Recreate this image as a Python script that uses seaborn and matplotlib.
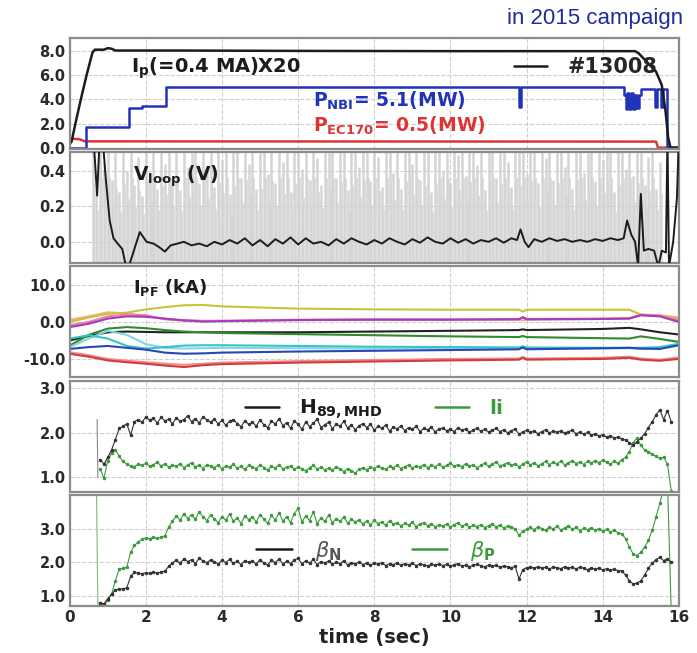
import numpy as np
import pandas as pd
import matplotlib
matplotlib.use("Agg")
import matplotlib.pyplot as plt
import seaborn as sns
from matplotlib.lines import Line2D

# ---------------- panel 1: Ip, P_NBI, P_EC ----------------
ip_t = [0.0, 0.05, 0.15, 0.3, 0.45, 0.6, 0.66, 0.9, 1.0, 1.1, 1.2, 1.6, 3.0, 6.0, 10.0, 14.0, 14.85,
        14.95, 15.1, 15.25, 15.4, 15.55, 15.65, 15.72, 15.78, 16.0]
ip_v = [0.3, 0.5, 2.0, 4.1, 6.1, 7.9, 8.12, 8.12, 8.25, 8.2, 8.05, 8.05, 8.05, 8.02, 8.0, 8.0, 8.0,
        7.8, 7.3, 6.8, 6.3, 5.2, 3.0, 0.8, 0.0, 0.0]

nbi_t = [0.0, 0.42, 1.55, 1.9, 2.54, 11.8, 11.86, 14.55, 14.6, 14.65, 14.7, 14.75, 14.8, 14.85, 14.9, 14.95,
         15.0, 15.38, 15.42, 15.54, 15.58, 15.68, 16.0]
nbi_v = [0.0, 1.7, 3.3, 3.45, 5.05, 3.4, 5.05, 4.4, 3.2, 4.5, 3.2, 4.5, 3.2, 4.4, 3.3, 4.4, 4.9, 3.4, 4.9,
         3.4, 4.9, 0.0, 0.0]

ec_t = [0.0, 0.25, 0.4, 15.4, 15.45, 16.0]
ec_v = [0.75, 0.7, 0.52, 0.5, 0.0, 0.0]

# ---------------- panel 2: Vloop (time, value) ----------------
vloop_pts = [(0.0, 0.7), (0.5, 0.7), (0.62, 0.6), (0.68, 0.40), (0.72, 0.26), (0.76, 0.45), (0.80, 0.65),
             (0.86, 0.6), (0.95, 0.35), (1.05, 0.12), (1.15, 0.02), (1.26, -0.01), (1.38, -0.04),
             (1.48, -0.14), (1.55, -0.14), (1.67, -0.06), (1.84, 0.055), (2.02, 0.0), (2.2, -0.01),
             (2.35, -0.03), (2.5, -0.055), (2.65, -0.02), (2.83, -0.01), (3.0, 0.0), (3.2, -0.02),
             (3.4, -0.01), (3.6, -0.025), (3.8, 0.0), (4.0, -0.015), (4.2, 0.01), (4.4, -0.01), (4.6, 0.02),
             (4.8, -0.02), (5.0, 0.01), (5.2, -0.025), (5.4, 0.015), (5.6, -0.01), (5.8, 0.025),
             (6.0, -0.015), (6.2, 0.02), (6.4, -0.01), (6.6, 0.0), (6.8, -0.02), (7.0, 0.015), (7.2, -0.01),
             (7.4, 0.02), (7.6, 0.0), (7.8, -0.015), (8.0, 0.01), (8.2, -0.01), (8.4, 0.02), (8.6, 0.0),
             (8.8, -0.015), (9.0, 0.015), (9.2, -0.005), (9.4, 0.025), (9.6, 0.0), (9.8, -0.01),
             (10.0, 0.02), (10.2, -0.005), (10.4, 0.015), (10.6, -0.01), (10.8, 0.01), (11.0, 0.0),
             (11.2, 0.02), (11.4, -0.005), (11.6, 0.02), (11.75, 0.01), (11.84, 0.07), (11.95, 0.0),
             (12.05, -0.03), (12.2, 0.015), (12.4, 0.0), (12.6, 0.02), (12.8, 0.005), (13.0, 0.015),
             (13.2, 0.0), (13.4, 0.01), (13.6, 0.0), (13.8, 0.015), (14.0, 0.005), (14.2, 0.02),
             (14.4, 0.01), (14.55, 0.02), (14.64, 0.12), (14.75, 0.04), (14.85, 0.0), (14.93, -0.14),
             (15.0, 0.27), (15.08, -0.05), (15.2, -0.04), (15.35, -0.05), (15.46, -0.14), (15.55, -0.05),
             (15.66, -0.06), (15.7, 0.6), (15.74, -0.14), (15.85, 0.0), (15.95, 0.25), (16.0, 0.6)]
vl_t = [p[0] for p in vloop_pts]
vl_v = [p[1] for p in vloop_pts]

vraw_start = 0.6
vraw_hi = [0.55, 0.30, 0.60, 0.45, 0.60, 0.35, 0.50, 0.28, 0.55, 0.40,
           0.60, 0.32, 0.48, 0.26, 0.58, 0.38, 0.60, 0.30, 0.52, 0.44,
           0.60, 0.34, 0.56, 0.29, 0.60, 0.42, 0.50, 0.60, 0.33, 0.58,
           0.40, 0.60, 0.31, 0.55, 0.46, 0.60, 0.27, 0.52, 0.60, 0.36,
           0.58, 0.44, 0.60, 0.30, 0.50, 0.60, 0.38, 0.57, 0.33, 0.60,
           0.45, 0.60, 0.28, 0.54, 0.60, 0.41, 0.59, 0.35, 0.60, 0.47,
           0.32, 0.60, 0.50, 0.60, 0.36, 0.56, 0.60, 0.29, 0.53, 0.60,
           0.42, 0.58, 0.60, 0.34, 0.60, 0.48, 0.31, 0.60, 0.55, 0.39,
           0.60, 0.30, 0.57, 0.60, 0.44, 0.60, 0.35, 0.52, 0.60, 0.28,
           0.55, 0.60, 0.40, 0.59, 0.33, 0.60, 0.49, 0.60, 0.37, 0.56,
           0.60, 0.43, 0.60, 0.29, 0.58, 0.60, 0.36, 0.54, 0.60, 0.45,
           0.31, 0.60, 0.52, 0.60, 0.38, 0.57, 0.60, 0.33, 0.60, 0.47,
           0.60, 0.35, 0.55, 0.60, 0.42, 0.60, 0.30, 0.58, 0.60, 0.39,
           0.50, 0.60, 0.34, 0.60, 0.46, 0.56, 0.60, 0.28, 0.53, 0.60,
           0.41, 0.60, 0.37, 0.55, 0.60, 0.32, 0.48, 0.60, 0.30, 0.45]

# ---------------- panel 3: PF coil currents ----------------
pf_t = [0.0, 0.5, 1.0, 1.5, 2.0, 2.5, 3.0, 3.5, 4.0, 6.0, 8.0, 10.0, 11.8, 11.9, 12.0, 14.0, 14.7, 15.0, 15.5, 16.0]
pf_yellow = [0.0, 1.2, 2.2, 2.5, 3.4, 4.0, 4.5, 4.6, 4.2, 3.6, 3.4, 3.3, 3.3, 2.8, 3.3, 3.3, 3.3, 2.0, 1.6, 0.9]
pf_orange = [0.6, 1.5, 2.6, 2.3, 1.6, 0.8, 0.3, 0.2, 0.3, 0.5, 0.6, 0.6, 0.6, 0.4, 0.6, 0.8, 1.0, 2.0, 1.8, 1.2]
pf_pink = [-0.9, 0.0, 1.5, 2.0, 1.8, 0.7, 0.5, 0.3, 0.3, 0.6, 0.7, 0.7, 0.8, 1.2, 0.8, 0.9, 1.0, 1.9, 1.7, 0.4]
pf_purple = [-1.4, -0.5, 0.9, 1.5, 1.4, 0.9, 0.4, 0.1, 0.2, 0.5, 0.6, 0.6, 0.7, 1.3, 0.7, 0.8, 0.9, 1.8, 1.5, 0.0]
pf_black = [-5.0, -3.8, -2.8, -2.6, -2.7, -2.8, -2.8, -2.8, -2.8, -2.8, -2.6, -2.4, -2.2, -2.0, -2.2, -1.9, -1.6, -2.0, -2.8, -3.4]
pf_green = [-6.4, -3.5, -1.8, -1.4, -1.7, -2.2, -2.6, -2.8, -3.0, -3.3, -3.6, -3.9, -4.1, -3.8, -4.1, -4.4, -4.5, -3.9, -4.6, -5.4]
pf_cyan = [-4.5, -3.6, -4.5, -6.5, -7.2, -6.8, -6.4, -6.3, -6.3, -6.5, -6.7, -6.8, -6.9, -6.6, -6.9, -7.0, -7.0, -7.0, -6.8, -5.9]
pf_teal = [-6.8, -4.5, -2.4, -3.5, -6.0, -7.0, -7.2, -7.1, -7.0, -7.1, -7.2, -7.2, -7.2, -6.9, -7.2, -7.2, -7.1, -7.3, -7.0, -6.2]
pf_blue = [-7.3, -6.8, -6.5, -7.0, -7.5, -8.3, -8.6, -8.5, -8.3, -8.0, -7.8, -7.6, -7.4, -6.9, -7.4, -7.1, -7.0, -7.2, -7.3, -6.3]
pf_salmon = [-8.2, -9.0, -10.0, -10.5, -10.9, -11.3, -11.6, -11.3, -11.0, -10.6, -10.3, -10.0, -9.9, -9.5, -9.9, -9.7, -9.4, -9.9, -10.2, -9.6]
pf_red = [-8.6, -9.4, -10.4, -10.9, -11.3, -11.8, -12.2, -11.7, -11.4, -11.0, -10.7, -10.4, -10.2, -9.7, -10.2, -10.0, -9.7, -10.2, -10.5, -10.0]

# ---------------- panels 4/5: 0.1 s samples from 0.8 s to 15.8 s ----------------
prof_start = 0.8
h89 = [1.40, 1.30, 1.45, 1.62, 1.85, 2.10, 2.15, 2.20, 1.95, 2.25,
       2.30, 2.24, 2.36, 2.28, 2.33, 2.22, 2.35, 2.27, 2.31, 2.20,
       2.34, 2.26, 2.30, 2.38, 2.25, 2.32, 2.22, 2.36, 2.29, 2.24,
       2.31, 2.20, 2.28, 2.17, 2.26, 2.30, 2.21, 2.14, 2.27, 2.19,
       2.24, 2.15, 2.29, 2.18, 2.12, 2.26, 2.20, 2.32, 2.16, 2.23,
       2.10, 2.27, 2.19, 2.08, 2.25, 2.14, 2.22, 2.31, 2.12, 2.18,
       2.24, 2.09, 2.20, 2.15, 2.26, 2.11, 2.18, 2.07, 2.16, 2.21,
       2.12, 2.19, 2.06, 2.15, 2.10, 2.18, 2.04, 2.13, 2.09, 2.16,
       2.05, 2.12, 2.08, 2.15, 2.03, 2.10, 2.07, 2.13, 2.02, 2.09,
       2.11, 2.05, 2.08, 2.03, 2.12, 2.06, 2.09, 2.01, 2.07, 2.10,
       2.04, 2.08, 2.02, 2.06, 2.10, 2.03, 2.07, 2.00, 2.05, 2.09,
       1.97, 2.02, 2.06, 2.01, 2.04, 1.98, 2.03, 2.07, 2.00, 2.04,
       2.01, 2.05, 1.99, 2.03, 2.06, 1.98, 2.02, 1.97, 2.01, 1.95,
       1.98, 1.93, 1.96, 1.90, 1.94, 1.88, 1.91, 1.86, 1.84, 1.78,
       1.72, 1.80, 1.88, 1.98, 2.12, 2.25, 2.40, 2.52, 2.30, 2.50,
       2.25]
li = [1.20, 0.98, 1.38, 1.55, 1.62, 1.48, 1.36, 1.30, 1.26, 1.24,
      1.30, 1.27, 1.32, 1.25, 1.29, 1.34, 1.26, 1.31, 1.23, 1.28,
      1.25, 1.31, 1.22, 1.28, 1.33, 1.24, 1.27, 1.20, 1.29, 1.25,
      1.22, 1.28, 1.19, 1.26, 1.23, 1.30, 1.21, 1.25, 1.18, 1.27,
      1.24, 1.20, 1.28, 1.22, 1.17, 1.25, 1.21, 1.29, 1.19, 1.23,
      1.26, 1.18, 1.24, 1.20, 1.15, 1.22, 1.27, 1.19, 1.23, 1.17,
      1.21, 1.16, 1.24, 1.19, 1.13, 1.20, 1.15, 1.10, 1.18, 1.22,
      1.17, 1.23, 1.20, 1.26, 1.21, 1.18, 1.25, 1.22, 1.27, 1.20,
      1.24, 1.28, 1.21, 1.26, 1.23, 1.29, 1.22, 1.27, 1.24, 1.30,
      1.23, 1.27, 1.32, 1.25, 1.29, 1.24, 1.31, 1.26, 1.28, 1.22,
      1.27, 1.32, 1.25, 1.30, 1.35, 1.26, 1.29, 1.33, 1.27, 1.31,
      1.24, 1.30, 1.35, 1.28, 1.33, 1.26, 1.31, 1.36, 1.29, 1.34,
      1.30, 1.37, 1.28, 1.33, 1.38, 1.31, 1.35, 1.29, 1.36, 1.32,
      1.38, 1.33, 1.39, 1.34, 1.30, 1.36, 1.32, 1.40, 1.45, 1.58,
      1.78, 1.88, 1.72, 1.62, 1.58, 1.52, 1.47, 1.43, 1.45, 1.30,
      0.70]
beta_p = [0.78, 0.72, 0.88, 1.05, 1.45, 1.80, 1.82, 1.85, 2.30, 2.50,
          2.60, 2.68, 2.72, 2.70, 2.74, 2.71, 2.75, 2.78, 3.05, 3.22,
          3.38, 3.25, 3.45, 3.30, 3.42, 3.28, 3.50, 3.35, 3.24, 3.40,
          3.30, 3.18, 3.36, 3.25, 3.44, 3.22, 3.32, 3.15, 3.38, 3.27,
          3.35, 3.20, 3.42, 3.28, 3.16, 3.40, 3.25, 3.48, 3.22, 3.36,
          3.18, 3.45, 3.60, 3.20, 3.38, 3.24, 3.50, 3.15, 3.32, 3.22,
          3.40, 3.18, 3.30, 3.22, 3.35, 3.16, 3.28, 3.20, 3.26, 3.14,
          3.22, 3.12, 3.25, 3.15, 3.20, 3.10, 3.24, 3.14, 3.18, 3.08,
          3.16, 3.10, 3.20, 3.06, 3.14, 3.18, 3.08, 3.15, 3.05, 3.12,
          3.08, 3.14, 3.05, 3.12, 3.18, 3.07, 3.13, 3.04, 3.10, 3.06,
          3.12, 3.03, 3.09, 3.14, 3.05, 3.11, 3.02, 3.08, 3.04, 3.00,
          2.80, 2.92, 2.98, 3.04, 2.97, 3.06, 3.00, 2.95, 3.05, 2.99,
          3.07, 2.96, 3.02, 3.08, 2.98, 3.04, 2.94, 3.01, 2.97, 3.03,
          2.95, 3.00, 2.92, 2.98, 2.90, 2.96, 2.88, 2.85, 2.70, 2.45,
          2.25, 2.20, 2.30, 2.45, 2.65, 2.95, 3.35, 3.75, 4.20, 4.40,
          0.50]
beta_n = [0.80, 0.76, 0.92, 1.05, 1.18, 1.20, 1.21, 1.24, 1.58, 1.70,
          1.68, 1.66, 1.69, 1.67, 1.70, 1.68, 1.71, 1.74, 1.88, 1.98,
          2.06, 1.98, 2.10, 2.02, 2.08, 1.96, 2.12, 2.04, 1.99, 2.07,
          2.02, 1.95, 2.06, 1.99, 2.09, 1.97, 2.03, 1.93, 2.05, 2.00,
          2.04, 1.94, 2.08, 1.98, 1.92, 2.06, 1.99, 2.10, 1.95, 2.03,
          1.96, 2.07, 2.12, 1.95, 2.05, 1.97, 2.09, 1.93, 2.02, 1.98,
          2.04, 1.94, 2.00, 1.96, 2.05, 1.92, 1.99, 1.95, 2.01, 1.93,
          1.98, 1.92, 1.97, 1.94, 1.99, 1.90, 1.96, 1.93, 1.98, 1.91,
          1.96, 1.92, 1.97, 1.90, 1.95, 1.93, 1.89, 1.94, 1.91, 1.95,
          1.90, 1.94, 1.88, 1.93, 1.96, 1.89, 1.92, 1.87, 1.91, 1.94,
          1.90, 1.86, 1.92, 1.88, 1.91, 1.85, 1.89, 1.87, 1.84, 1.88,
          1.50, 1.78, 1.84, 1.86, 1.82, 1.87, 1.83, 1.85, 1.80, 1.86,
          1.84, 1.81, 1.87, 1.83, 1.85, 1.80, 1.86, 1.82, 1.78, 1.84,
          1.79, 1.83, 1.77, 1.81, 1.76, 1.80, 1.75, 1.74, 1.62, 1.45,
          1.35, 1.38, 1.45, 1.62, 1.82, 1.98, 2.08, 2.15, 2.05, 2.10,
          2.00]
# start-up transients before the profile samples
h89_pre_t, h89_pre_v = [0.72, 0.74], [2.3, 1.0]
bp_pre_t, bp_pre_v = [0.70, 0.74], [4.5, 0.70]

x_ticks = [0, 2, 4, 6, 8, 10, 12, 14, 16]

# ---------------- style ----------------
sns.set_theme(style="white")
plt.rcParams["font.family"] = ["DejaVu Sans"]
plt.rcParams["mathtext.fontset"] = "dejavusans"

BLACK = "#1c1c1c"
BLUE = "#2233bb"
RED = "#dd3535"
GREEN = "#3c9a3c"
FRAME = "#8c8c8c"

fig, axes = plt.subplots(5, 1, figsize=(6.97, 6.53), dpi=100, sharex=True)
fig.subplots_adjust(left=0.1, right=0.974, top=0.942, bottom=0.072, hspace=0.03)


def line(ax, x, y, **kw):
    sns.lineplot(x=np.asarray(x, float), y=np.asarray(y, float), ax=ax, estimator=None,
                 sort=False, errorbar=None, legend=False, **kw)


# Panel 1
ax = axes[0]
line(ax, ec_t, ec_v, color=RED, lw=1.8)
line(ax, nbi_t, nbi_v, color=BLUE, lw=1.8, drawstyle="steps-post")
line(ax, ip_t, ip_v, color=BLACK, lw=1.8)
ax.set_ylim(-0.1, 9.1)
ax.set_yticks([0, 2, 4, 6, 8])
ax.set_yticklabels(["0.0", "2.0", "4.0", "6.0", "8.0"])
ax.text(1.6, 6.6, r"I$_\mathbf{p}$(=0.4 MA)X20", fontsize=14, fontweight="bold", color=BLACK, va="center")
ax.text(6.4, 3.85, r"P$_\mathbf{NBI}$= 5.1(MW)", fontsize=13.5, fontweight="bold", color=BLUE, va="center")
ax.text(6.4, 1.8, r"P$_\mathbf{EC170}$= 0.5(MW)", fontsize=13.5, fontweight="bold", color=RED, va="center")
ax.legend(handles=[Line2D([], [], color=BLACK, lw=1.8)], labels=["#13008"], loc="center",
          bbox_to_anchor=(0.847, 0.735), frameon=False, handlelength=1.6, handletextpad=1.0,
          prop={"size": 15, "weight": "bold"})

# Panel 2
ax = axes[1]
vt = vraw_start + 0.1 * np.arange(len(vraw_hi))
ax.vlines(vt, -0.12, vraw_hi, color="#cdcdcd", lw=1.8, alpha=0.85, zorder=1)
ax.vlines(vt + 0.05, -0.12, np.asarray(vraw_hi) * 0.6, color="#d6d6d6", lw=1.4, alpha=0.85, zorder=1)
line(ax, vl_t, vl_v, color=BLACK, lw=1.4, zorder=3)
ax.set_ylim(-0.12, 0.505)
ax.set_yticks([0.0, 0.2, 0.4])
ax.set_yticklabels(["0.0", "0.2", "0.4"])
ax.text(1.65, 0.37, r"V$_\mathbf{loop}$ (V)", fontsize=13.5, fontweight="bold", color=BLACK, va="center")

# Panel 3
ax = axes[2]
pf_series = [(pf_orange, "#f3b27a"), (pf_yellow, "#c8c23a"), (pf_pink, "#ef7ab0"), (pf_purple, "#a53cb8"),
             (pf_black, "#222222"), (pf_green, "#2e8b2e"), (pf_teal, "#86d4e6"), (pf_cyan, "#38c4c4"),
             (pf_blue, "#2846b8"), (pf_salmon, "#f08c8c"), (pf_red, "#d23c3c")]
for vals, col in pf_series:
    line(ax, pf_t, vals, color=col, lw=1.5)
ax.set_ylim(-15, 15)
ax.set_yticks([-10, 0, 10])
ax.set_yticklabels(["-10.0", "0.0", "10.0"])
ax.text(1.65, 9.2, r"I$_\mathbf{PF}$ (kA)", fontsize=13, fontweight="bold", color=BLACK, va="center")

# Panel 4
ax = axes[3]
pt = prof_start + 0.1 * np.arange(len(h89))
line(ax, h89_pre_t, h89_pre_v, color="#888888", lw=0.8)
line(ax, pt, li, color=GREEN, lw=0.8, marker=".", ms=3.5, mec=GREEN)
line(ax, pt, h89, color="#333333", lw=0.8, marker=".", ms=3.5, mec="#333333")
ax.set_ylim(0.68, 3.17)
ax.set_yticks([1, 2, 3])
ax.set_yticklabels(["1.0", "2.0", "3.0"])
ax.legend(handles=[Line2D([], [], color=BLACK, lw=1.8), Line2D([], [], color=GREEN, lw=1.8)],
          labels=[r"H$_\mathbf{89,MHD}$", "li"], labelcolor=[BLACK, GREEN], ncol=2, loc="center",
          bbox_to_anchor=(0.5, 0.74), frameon=False, handlelength=1.7, handletextpad=1.0,
          columnspacing=2.6, prop={"size": 14.5, "weight": "bold"})

# Panel 5
ax = axes[4]
line(ax, bp_pre_t, bp_pre_v, color="#8fbf8f", lw=0.9)
line(ax, pt, beta_p, color=GREEN, lw=0.8, marker=".", ms=3.5, mec=GREEN)
line(ax, pt, beta_n, color="#333333", lw=0.8, marker=".", ms=3.5, mec="#333333")
ax.set_ylim(0.7, 4.0)
ax.set_yticks([1, 2, 3])
ax.set_yticklabels(["1.0", "2.0", "3.0"])
ax.legend(handles=[Line2D([], [], color=BLACK, lw=1.8), Line2D([], [], color=GREEN, lw=1.8)],
          labels=[r"$\beta_\mathbf{N}$", r"$\beta_\mathbf{P}$"], labelcolor=["#555555", GREEN], ncol=2,
          loc="center", bbox_to_anchor=(0.503, 0.5), frameon=False, handlelength=1.7, handletextpad=1.1,
          columnspacing=3.4, prop={"size": 15})

for i, ax in enumerate(axes):
    ax.set_xlim(0, 16)
    ax.set_xticks(x_ticks)
    ax.grid(True, ls="--", lw=0.8, color="#cfcfcf")
    ax.set_axisbelow(True)
    for s in ax.spines.values():
        s.set_color(FRAME)
        s.set_linewidth(1.6)
    ax.tick_params(axis="both", direction="in", length=3, color=FRAME, labelsize=10.5, pad=3)
    for lab in ax.get_yticklabels():
        lab.set_fontweight("bold")
        lab.set_color("#2a2a2a")
    ax.set_ylabel("")
    if i < 4:
        ax.tick_params(labelbottom=False)
axes[4].set_xticklabels([str(v) for v in x_ticks])
for lab in axes[4].get_xticklabels():
    lab.set_fontweight("bold")
    lab.set_color("#2a2a2a")
    lab.set_fontsize(11)
axes[4].set_xlabel("time (sec)", fontsize=14, fontweight="bold", color="#222222", labelpad=2)

fig.text(0.98, 0.971, "in 2015 campaign", ha="right", va="center", fontsize=16,
         color="#1f2c9c", family="Liberation Sans")

fig.savefig("out.png", dpi=100)
